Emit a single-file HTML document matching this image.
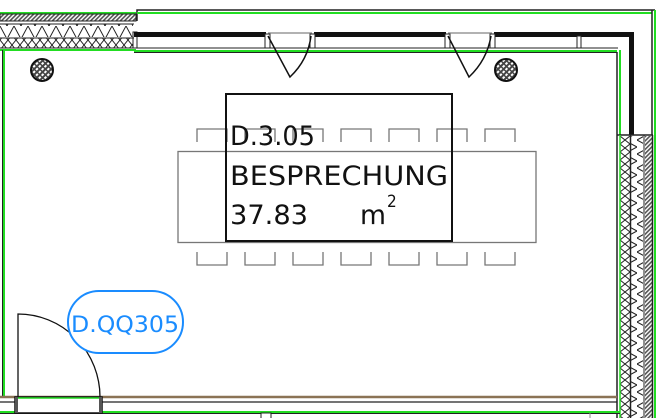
<!DOCTYPE html>
<html><head><meta charset="utf-8"><style>html,body{margin:0;padding:0;background:#fff}svg{display:block}</style></head><body>
<svg width="659" height="418" viewBox="0 0 659 418" xmlns="http://www.w3.org/2000/svg">
<defs>
<pattern id="diag" width="3" height="3" patternUnits="userSpaceOnUse" patternTransform="rotate(45)"><rect width="3" height="3" fill="#fff"/><rect width="1.6" height="3" fill="#555"/></pattern>
<pattern id="zigH" width="14" height="13" patternUnits="userSpaceOnUse"><path d="M0,0 L7,13 L14,0" fill="none" stroke="#222" stroke-width="1"/></pattern>
<pattern id="xH" width="8" height="10" patternUnits="userSpaceOnUse"><path d="M0,0 L8,10 M8,0 L0,10" stroke="#222" stroke-width="1"/></pattern>
<pattern id="zigV" width="13" height="14" patternUnits="userSpaceOnUse"><path d="M0,0 L13,7 L0,14" fill="none" stroke="#222" stroke-width="1"/></pattern>
<pattern id="xV" width="10" height="8" patternUnits="userSpaceOnUse"><path d="M0,0 L10,8 M10,0 L0,8" stroke="#222" stroke-width="1"/></pattern>
<pattern id="col" width="4" height="4" patternUnits="userSpaceOnUse" patternTransform="rotate(45)"><rect width="4" height="4" fill="#fff"/><rect width="2" height="4" fill="#444"/><rect width="4" height="1.5" fill="#444"/></pattern>
</defs>
<!-- top-left wall -->
<rect x="0" y="12" width="136" height="2" fill="#22dd22"/>
<rect x="0" y="14" width="136" height="7" fill="url(#diag)" stroke="#222" stroke-width="1"/>
<rect x="0" y="24" width="133" height="13" fill="url(#zigH)"/>
<line x1="0" y1="24" x2="134" y2="24" stroke="#222"/>
<line x1="0" y1="38" x2="134" y2="38" stroke="#222"/>
<rect x="0" y="38" width="133" height="10" fill="url(#xH)"/>
<line x1="0" y1="48" x2="136" y2="48" stroke="#222"/>
<rect x="133" y="32" width="4" height="16" fill="none" stroke="#222"/>
<rect x="0" y="49" width="136" height="2" fill="#22dd22"/>
<!-- top right wall -->
<path d="M137,21 V10 H655" fill="none" stroke="#222" stroke-width="1.5"/>
<line x1="137" y1="13" x2="652" y2="13" stroke="#22dd22" stroke-width="2"/>
<rect x="134" y="32" width="498" height="5" fill="#111"/>
<rect x="629" y="32" width="5" height="104" fill="#111"/>
<line x1="134" y1="48" x2="618" y2="48" stroke="#222"/>
<line x1="134" y1="51" x2="617" y2="51" stroke="#22dd22" stroke-width="2"/>
<line x1="134" y1="52.5" x2="617" y2="52.5" stroke="#222"/>
<path d="M617,52 V135" stroke="#222" stroke-width="1.5"/>
<path d="M620,50 V135" stroke="#22dd22" stroke-width="2"/>
<path d="M652,10 V135" stroke="#222" stroke-width="1.5"/>
<path d="M655,10 V418" stroke="#22dd22" stroke-width="2"/>
<!-- windows -->
<rect x="266" y="31" width="48" height="7" fill="#fff"/>
<line x1="268" y1="33" x2="312" y2="33" stroke="#999" stroke-width="1.5"/>
<rect x="265" y="34" width="5" height="14" fill="#fff" stroke="#222"/>
<rect x="310" y="34" width="5" height="14" fill="#fff" stroke="#222"/>
<path d="M268,36 L290,77 Q308,60 311,36" fill="none" stroke="#111" stroke-width="1.5"/>
<rect x="446" y="31" width="48" height="7" fill="#fff"/>
<line x1="448" y1="33" x2="492" y2="33" stroke="#999" stroke-width="1.5"/>
<rect x="445" y="34" width="5" height="14" fill="#fff" stroke="#222"/>
<rect x="490" y="34" width="5" height="14" fill="#fff" stroke="#222"/>
<path d="M448,36 L469,77 Q487,60 491,36" fill="none" stroke="#111" stroke-width="1.5"/>
<rect x="577" y="36" width="4" height="12" fill="#fff" stroke="#222"/>
<!-- right wall hatched -->
<rect x="617" y="135" width="36" height="283" fill="#fff"/>
<line x1="617" y1="135" x2="653" y2="135" stroke="#222" stroke-width="1.5"/>
<rect x="620" y="136" width="10" height="282" fill="url(#xV)"/>
<rect x="631" y="136" width="12" height="282" fill="url(#zigV)"/>
<rect x="645" y="136" width="7" height="282" fill="url(#diag)"/>
<line x1="617" y1="135" x2="617" y2="418" stroke="#222" stroke-width="1.5"/>
<line x1="620" y1="135" x2="620" y2="418" stroke="#22dd22" stroke-width="1.5"/>
<line x1="630.5" y1="135" x2="630.5" y2="418" stroke="#222" stroke-width="1.5"/>
<line x1="644" y1="135" x2="644" y2="418" stroke="#222" stroke-width="1"/>
<line x1="652.5" y1="135" x2="652.5" y2="418" stroke="#222" stroke-width="1.5"/>
<!-- left wall -->
<line x1="4" y1="50" x2="4" y2="397" stroke="#22dd22" stroke-width="2"/>
<line x1="2.5" y1="50" x2="2.5" y2="397" stroke="#222" stroke-width="1"/>
<!-- bottom wall -->
<line x1="0" y1="397" x2="617" y2="397" stroke="#8b7355" stroke-width="2.5"/>
<line x1="0" y1="402" x2="617" y2="402" stroke="#222" stroke-width="1.2"/>
<line x1="0" y1="412" x2="620" y2="412" stroke="#22dd22" stroke-width="2"/>
<line x1="0" y1="413.5" x2="620" y2="413.5" stroke="#222" stroke-width="1"/>
<rect x="261" y="413" width="10" height="6" fill="#fff" stroke="#222"/>
<line x1="590" y1="413" x2="590" y2="418" stroke="#888"/>
<!-- door -->
<rect x="15" y="397" width="87" height="16" fill="#fff" stroke="#111" stroke-width="1.5"/>
<line x1="18" y1="398" x2="99" y2="398" stroke="#22dd22" stroke-width="1.5"/>
<rect x="15" y="397" width="3" height="16" fill="#555"/>
<rect x="99" y="397" width="3" height="16" fill="#555"/>
<path d="M18,397 V314 A82,83 0 0 1 100,397" fill="none" stroke="#111" stroke-width="1.3"/>
<!-- columns -->
<circle cx="42" cy="70" r="11" fill="url(#col)" stroke="#111" stroke-width="2"/>
<circle cx="506" cy="70" r="11" fill="url(#col)" stroke="#111" stroke-width="2"/>
<!-- chairs -->
<g fill="none" stroke="#777" stroke-width="1.3">
<path d="M197,142 V129 H227 V142 M245,142 V129 H275 V142 M293,142 V129 H323 V142 M341,142 V129 H371 V142 M389,142 V129 H419 V142 M437,142 V129 H467 V142 M485,142 V129 H515 V142"/>
<path d="M197,252 V265 H227 V252 M245,252 V265 H275 V252 M293,252 V265 H323 V252 M341,252 V265 H371 V252 M389,252 V265 H419 V252 M437,252 V265 H467 V252 M485,252 V265 H515 V252"/>
<rect x="178" y="151.5" width="358" height="91"/>
</g>
<rect x="226" y="94" width="226" height="147" fill="none" stroke="#111" stroke-width="2"/>
<g font-family="'DejaVu Sans Condensed','DejaVu Sans','Liberation Sans',sans-serif" font-size="27" fill="#111">
<text x="230" y="145" textLength="85" lengthAdjust="spacingAndGlyphs">D.3.05</text>
<text x="230" y="185" textLength="218" lengthAdjust="spacingAndGlyphs">BESPRECHUNG</text>
<text x="230" y="224" textLength="78" lengthAdjust="spacingAndGlyphs">37.83</text>
<text x="360" y="224" textLength="26" lengthAdjust="spacingAndGlyphs">m</text>
<text x="387" y="207" font-size="17">2</text>
</g>
<!-- tag -->
<rect x="68" y="291" width="115" height="62" rx="31" fill="#fff" stroke="#1a8cff" stroke-width="2"/>
<text x="71" y="332" font-family="'DejaVu Sans','Liberation Sans',sans-serif" font-size="22" fill="#1a8cff" textLength="108" lengthAdjust="spacingAndGlyphs">D.QQ305</text>
</svg>
</body></html>
